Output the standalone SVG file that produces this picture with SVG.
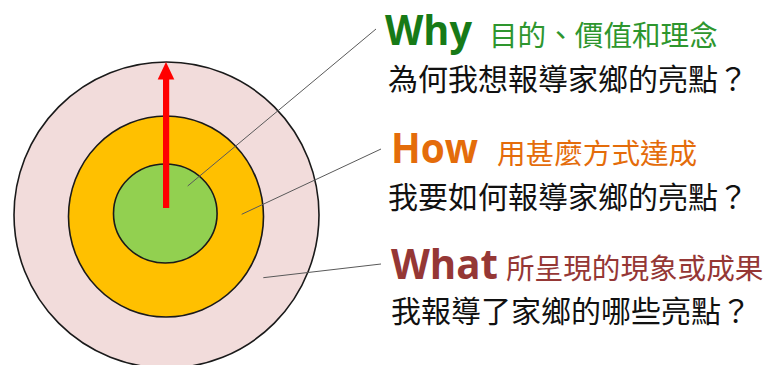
<svg xmlns="http://www.w3.org/2000/svg" width="766" height="365" viewBox="0 0 766 365">
<defs>
<style>
.ring{stroke:#1a1a1a;stroke-width:1.6}
.lead{stroke:#595959;stroke-width:1;fill:none}
.lat{font-family:"Open Sans","Liberation Sans",sans-serif;font-weight:bold;font-size:41px}
.cjk{font-family:"Noto Sans CJK TC","Noto Sans CJK SC",sans-serif;font-size:28.6px}
.q{font-family:"Noto Sans CJK TC","Noto Sans CJK SC",sans-serif;font-size:30px;font-weight:400;fill:#111}
</style>
</defs>
<rect width="766" height="365" fill="#fff"/>
<g id="outer"><ellipse class="ring" cx="166.5" cy="215" rx="152.5" ry="153" fill="#f2dcdb"/></g>
<g id="middle"><ellipse class="ring" cx="166" cy="216.5" rx="97.5" ry="100.5" fill="#ffc000"/></g>
<g id="inner"><ellipse class="ring" cx="165.3" cy="213.5" rx="51.8" ry="49.5" fill="#92d050"/></g>
<g id="arrow">
<rect x="163" y="79" width="6.2" height="129" fill="#ff0000"/>
<polygon points="157.7,79.5 174.3,79.5 166,62" fill="#ff0000"/>
</g>
<g id="connectors">
<line class="lead" x1="187.7" y1="186" x2="376" y2="29"/>
<line class="lead" x1="241.7" y1="214.3" x2="381" y2="149"/>
<line class="lead" x1="263.3" y1="277.7" x2="381" y2="264"/>
</g>
<g id="why">
<text class="lat" x="385" y="45" fill="#177a17" textLength="87" lengthAdjust="spacingAndGlyphs">Why</text>
<text class="cjk" x="489" y="46" fill="#2e962e">目的、價值和理念</text>
<text class="q" x="388" y="90">為何我想報導家鄉的亮點？</text>
</g>
<g id="how">
<text class="lat" x="391" y="163" fill="#e46c0a" textLength="87" lengthAdjust="spacingAndGlyphs">How</text>
<text class="cjk" x="497" y="164" fill="#e46c0a">用甚麼方式達成</text>
<text class="q" x="388" y="208">我要如何報導家鄉的亮點？</text>
</g>
<g id="what">
<text class="lat" x="391" y="279" fill="#953735" textLength="107" lengthAdjust="spacingAndGlyphs">What</text>
<text class="cjk" x="506" y="279" fill="#953735">所呈現的現象或成果</text>
<text class="q" x="391" y="322">我報導了家鄉的哪些亮點？</text>
</g>
</svg>
